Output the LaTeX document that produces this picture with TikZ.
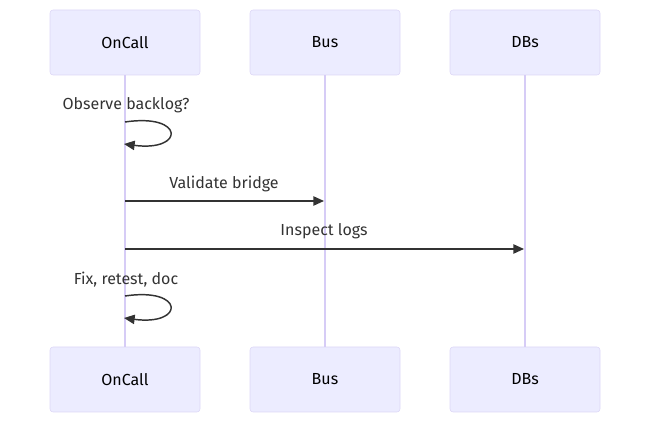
\documentclass[tikz,border=0pt]{standalone}
\usepackage{fontspec}
\setmainfont{Fira Sans}
\usetikzlibrary{arrows.meta}
\definecolor{actfill}{HTML}{ECECFF}
\definecolor{actline}{HTML}{DCD6F6}
\definecolor{lifeline}{HTML}{D6CCF6}
\definecolor{ink}{HTML}{333333}
\begin{document}
\begin{tikzpicture}[x=0.75pt,y=-0.75pt,
  actor/.style={draw=actline,fill=actfill,rounded corners=2.25pt,minimum width=112.5pt,minimum height=48.75pt,inner sep=0pt,font=\fontsize{12}{14}\selectfont,text=black},
  life/.style={draw=lifeline,line width=1.1pt},
  msg/.style={draw=ink,line width=1.1pt,-{Triangle[length=8pt,width=7pt]}},
  lbl/.style={font=\fontsize{12}{14}\selectfont,text=ink,inner sep=0pt}]
\useasboundingbox (0,0) rectangle (650,423);
\node[actor] (a1) at (125,42.5) {\raisebox{-1pt}{OnCall}};
\node[actor] (a2) at (325,42.5) {\raisebox{-1pt}{Bus}};
\node[actor] (a3) at (525,42.5) {\raisebox{-1pt}{DBs}};
\node[actor] (b1) at (125,379.5) {\raisebox{-1pt}{OnCall}};
\node[actor] (b2) at (325,379.5) {\raisebox{-1pt}{Bus}};
\node[actor] (b3) at (525,379.5) {\raisebox{-1pt}{DBs}};
\draw[life] (a1.south) -- (b1.north);
\draw[life] (a2.south) -- (b2.north);
\draw[life] (a3.south) -- (b3.north);
\coordinate (s1) at (125,122);
\coordinate (e1) at (124,144);
\node[lbl] (l1) at (126,105.5) {Observe backlog?};
\draw[msg] (s1) .. controls (185,113) and (185,152) .. (e1);
\coordinate (m1s) at (125,201);
\coordinate (m1e) at (324,201);
\node[lbl] (l2) at (224,183.5) {Validate bridge};
\draw[msg] (m1s) -- (m1e);
\coordinate (m2s) at (125,249);
\coordinate (m2e) at (524,249);
\node[lbl] (l3) at (324,231.5) {Inspect logs};
\draw[msg] (m2s) -- (m2e);
\coordinate (s2) at (125,296);
\coordinate (e2) at (124,318);
\node[lbl] (l4) at (126,279.5) {Fix, retest, doc};
\draw[msg] (s2) .. controls (185,287) and (185,326) .. (e2);
\end{tikzpicture}
\end{document}
